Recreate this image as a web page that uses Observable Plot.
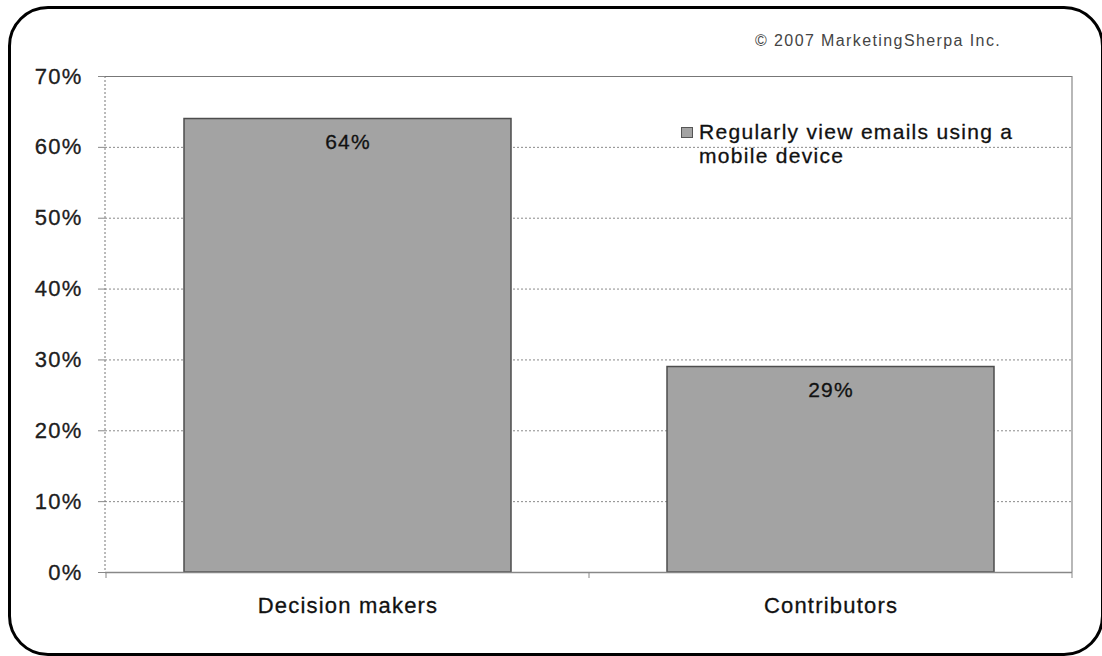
<!DOCTYPE html>
<html>
<head>
<meta charset="utf-8">
<script src="https://cdn.jsdelivr.net/npm/d3@7"></script>
<script src="https://cdn.jsdelivr.net/npm/@observablehq/plot@0.6"></script>
<style>
  html, body { margin: 0; padding: 0; background: #fff; }
  #wrap { position: relative; width: 1102px; height: 656px; overflow: hidden;
          font-family: 'Liberation Sans', Arial, sans-serif; }
  #border { position: absolute; left: 8px; top: 6px; width: 1096px; height: 650px;
            box-sizing: border-box; border: 3px solid #000; border-radius: 40px; pointer-events: none; }
  #credit { position: absolute; left: 755px; top: 32.5px; font-size: 16px; line-height: 16px;
            letter-spacing: 1.4px; color: #444; white-space: nowrap; }
  #swatch { position: absolute; left: 681px; top: 127px; width: 12px; height: 11px;
            box-sizing: border-box; background: #a3a3a3; border: 1px solid #555; }
  #legendText { position: absolute; left: 699px; top: 119.5px; font-size: 21px; line-height: 24px;
                letter-spacing: 1.3px; color: #111; white-space: nowrap;
                -webkit-text-stroke: 0.3px #111; }
  #chart svg text { letter-spacing: 1.2px; stroke: #111; stroke-width: 0.3px; }
</style>
</head>
<body>
<div id="wrap">
  <div id="chart"></div>
  <div id="credit"></div>
  <div id="swatch"></div>
  <div id="legendText"></div>
  <div id="border"></div>
</div>
<script>
const categories = ["Decision makers", "Contributors"];
const values = [64, 29];
const yTicks = [0, 10, 20, 30, 40, 50, 60, 70];
const gridTicks = [10, 20, 30, 40, 50, 60];
const legendLines = ["Regularly view emails using a", "mobile device"];
const credit = "\u00A9 2007 MarketingSherpa Inc.";

const data = categories.map((c, i) => ({category: c, value: values[i]}));

function frameAndEdges(index, scales, vals, dims) {
  const {width, height, marginLeft, marginRight, marginTop, marginBottom} = dims;
  const x = scales.x;
  const x0 = marginLeft, x1 = width - marginRight;
  const yt = marginTop, yb = height - marginBottom;
  const g = d3.create("svg:g");
  g.append("line").attr("x1", x0).attr("x2", x0).attr("y1", yt).attr("y2", yb)
    .attr("stroke", "#777").attr("stroke-dasharray", "2,2");
  g.append("line").attr("x1", x1).attr("x2", x1).attr("y1", yt).attr("y2", yb)
    .attr("stroke", "#888").attr("stroke-width", 1.2);
  const step = (x && x.step) ? x.step() : (x1 - x0) / categories.length;
  const bw = (x && x.bandwidth) ? x.bandwidth() : step * 0.676;
  const b = categories.map(c => x(c) - (step - bw) / 2);
  b.push(b[b.length - 1] + step);
  b.forEach(v => g.append("line").attr("x1", v).attr("x2", v).attr("y1", yb).attr("y2", yb + 6)
    .attr("stroke", "#888"));
  return g.node();
}

const chart = Plot.plot({
  width: 1102,
  height: 656,
  marginTop: 76,
  marginLeft: 105,
  marginRight: 30,
  marginBottom: 84,
  style: {fontFamily: "'Liberation Sans', Arial, sans-serif", background: "transparent"},
  x: {domain: categories, paddingInner: 0.324, paddingOuter: 0.162, label: null},
  y: {domain: [0, 70], label: null},
  marks: [
    Plot.ruleY(gridTicks, {stroke: "#8a8a8a", strokeDasharray: "2,2", strokeWidth: 1}),
    Plot.barY(data, {x: "category", y: "value", fill: "#a3a3a3", stroke: "#4d4d4d", strokeWidth: 1.5}),
    Plot.ruleY([70], {stroke: "#777", strokeWidth: 1.2}),
    Plot.ruleY([0], {stroke: "#888", strokeWidth: 1.5}),
    frameAndEdges,
    Plot.text(data, {x: "category", y: "value", text: d => d.value + "%", dy: 23,
                     fontSize: 21, fill: "#111"}),
    Plot.axisY({ticks: yTicks, tickFormat: d => d + "%", tickSize: 7, tickPadding: 16,
                fontSize: 22, stroke: "#888", fill: "#222", label: null}),
    Plot.axisX({tickSize: 0, tickPadding: 25, fontSize: 22, fill: "#111", label: null})
  ]
});
document.getElementById("chart").appendChild(chart);
document.getElementById("credit").textContent = credit;
document.getElementById("legendText").innerHTML = legendLines.map(l => l.replace(/&/g, "&amp;").replace(/</g, "&lt;")).join("<br>");
</script>
</body>
</html>
